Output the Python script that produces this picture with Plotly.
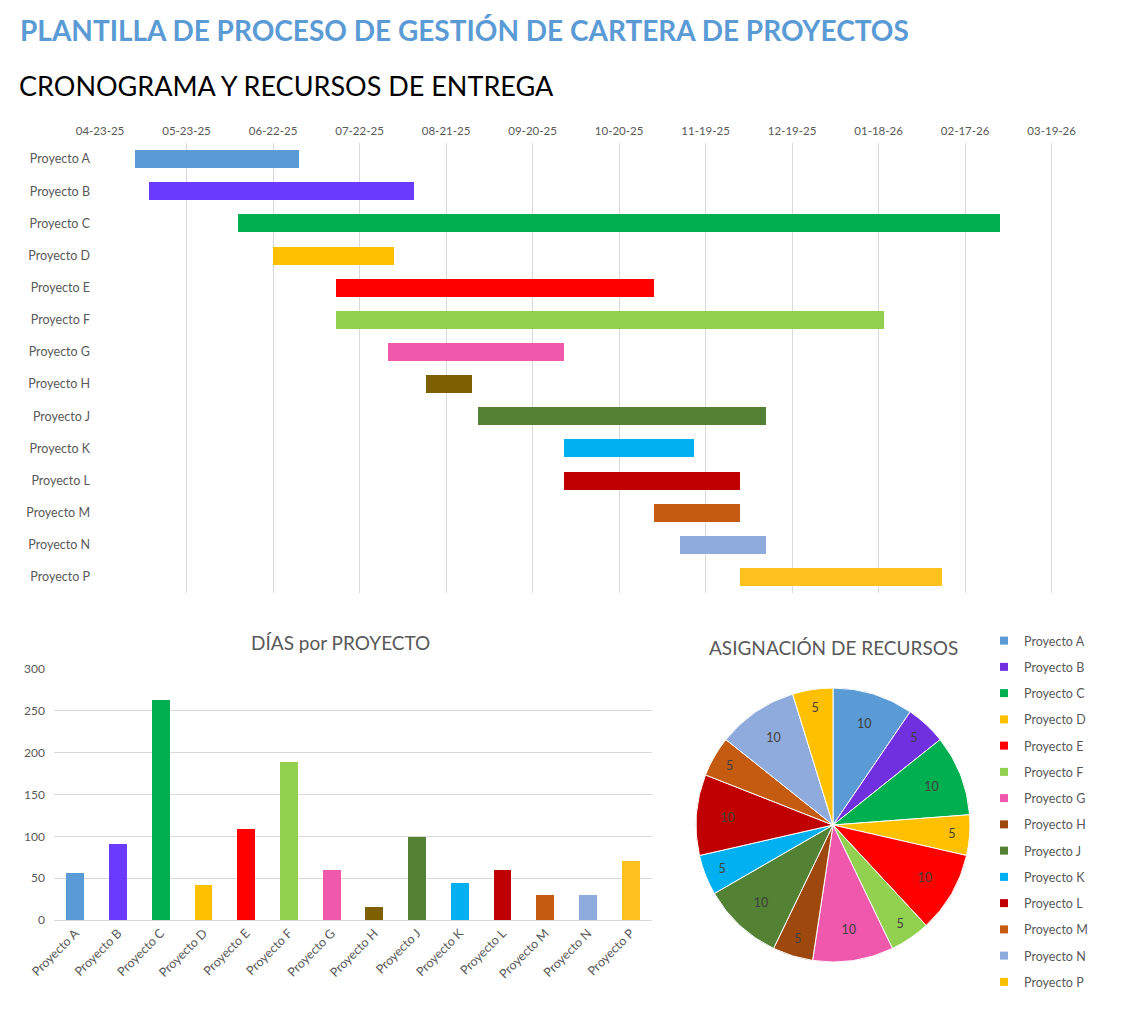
import plotly.graph_objects as go
import pandas as pd

# ---------------- data ----------------
proyectos = ["Proyecto A", "Proyecto B", "Proyecto C", "Proyecto D", "Proyecto E",
             "Proyecto F", "Proyecto G", "Proyecto H", "Proyecto J", "Proyecto K",
             "Proyecto L", "Proyecto M", "Proyecto N", "Proyecto P"]
fecha_inicio = ["2025-05-05", "2025-05-10", "2025-06-10", "2025-06-22", "2025-07-14",
                "2025-07-14", "2025-08-01", "2025-08-14", "2025-09-01", "2025-10-01",
                "2025-10-01", "2025-11-01", "2025-11-10", "2025-12-01"]
fecha_fin = ["2025-07-01", "2025-08-10", "2026-03-01", "2025-08-03", "2025-11-01",
             "2026-01-20", "2025-10-01", "2025-08-30", "2025-12-10", "2025-11-15",
             "2025-12-01", "2025-12-01", "2025-12-10", "2026-02-09"]
dias = [56, 91, 263, 42, 109, 189, 60, 16, 99, 44, 60, 30, 30, 70]
recursos = [10, 5, 10, 5, 10, 5, 10, 5, 10, 5, 10, 5, 10, 5]

colores_barras = ["#5B9BD5", "#6A3BFF", "#00B050", "#FFC000", "#FF0000", "#92D050",
                  "#F058AC", "#7F6000", "#548235", "#00B0F0", "#C00000", "#C55A11",
                  "#8FAADC", "#FEC21F"]
colores_pie = ["#5B9BD5", "#7030E0", "#00B050", "#FFC000", "#FF0000", "#92D050",
               "#F058AC", "#9E480E", "#548235", "#00B0F0", "#C00000", "#C55A11",
               "#8FAADC", "#FFC000"]

FONT = "Lato"
GRAY = "#595959"
GRID = "#D9D9D9"
W, H = 1126, 1016

def px_x(v):
    return v / W

def px_y(v):
    return (H - v) / H

inicio = pd.to_datetime(fecha_inicio)
fin = pd.to_datetime(fecha_fin)
duracion_ms = [(f - i).total_seconds() * 1000 for i, f in zip(inicio, fin)]

fig = go.Figure()

# Gantt
fig.add_trace(go.Bar(
    y=proyectos, x=duracion_ms, base=fecha_inicio, orientation="h",
    marker=dict(color=colores_barras, line=dict(width=0)),
    width=0.56, showlegend=False, xaxis="x", yaxis="y",
))

# Días por proyecto
fig.add_trace(go.Bar(
    x=proyectos, y=dias, marker=dict(color=colores_barras, line=dict(width=0)),
    width=0.42, showlegend=False, xaxis="x2", yaxis="y2",
))

# Asignación de recursos (pie)
fig.add_trace(go.Pie(
    labels=proyectos, values=recursos, sort=False, direction="clockwise", rotation=0,
    marker=dict(colors=colores_pie, line=dict(color="white", width=1)),
    textinfo="value", textposition="inside", insidetextorientation="horizontal",
    textfont=dict(family=FONT, size=12.5, color="#404040"),
    domain=dict(x=[px_x(696), px_x(970)], y=[px_y(962), px_y(688)]),
    showlegend=False,
))

# legend entries for the pie
for nombre, color in zip(proyectos, colores_pie):
    fig.add_trace(go.Scatter(
        x=[None], y=[None], mode="markers", name=nombre, legendgroup=nombre,
        marker=dict(symbol="square", size=8, color=color),
        xaxis="x2", yaxis="y2", showlegend=True,
    ))

fig.update_layout(
    width=W, height=H,
    margin=dict(l=0, r=0, t=0, b=0, autoexpand=False),
    paper_bgcolor="white", plot_bgcolor="white",
    font=dict(family=FONT, color=GRAY),
    bargap=0,
    xaxis=dict(
        type="date", domain=[px_x(100), px_x(1092)], anchor="y", side="top",
        range=["2025-04-23", "2026-04-02"], automargin=False,
        tick0="2025-04-23", dtick=30 * 86400000, tickformat="%m-%d-%y",
        showgrid=True, gridcolor=GRID, gridwidth=1, zeroline=False, showline=False,
        ticks="", tickfont=dict(size=11.5, color=GRAY), ticklabelstandoff=5,
    ),
    yaxis=dict(
        domain=[px_y(593), px_y(143)], anchor="x", autorange="reversed",
        type="category", showgrid=False, zeroline=False, showline=False, ticks="",
        tickfont=dict(size=12.5, color=GRAY), ticklabelstandoff=9, automargin=False,
    ),
    xaxis2=dict(
        domain=[px_x(54), px_x(652)], anchor="y2", type="category", automargin=False,
        showline=True, linecolor=GRID, linewidth=1, showgrid=False, ticks="",
        tickangle=-45, tickfont=dict(size=12.5, color=GRAY),
    ),
    yaxis2=dict(
        domain=[px_y(920), px_y(669)], anchor="x2", range=[0, 300], dtick=50,
        showgrid=True, gridcolor=GRID, zeroline=False, showline=False, ticks="",
        tickfont=dict(size=12, color=GRAY), ticklabelstandoff=8, automargin=False,
    ),
    legend=dict(
        x=px_x(984), y=px_y(626), xanchor="left", yanchor="top",
        font=dict(family=FONT, size=12.5, color=GRAY), tracegroupgap=7,
        bgcolor="rgba(0,0,0,0)", borderwidth=0, itemwidth=30,
    ),
    annotations=[
        dict(text="<b>PLANTILLA DE PROCESO DE GESTIÓN DE CARTERA DE PROYECTOS</b>",
             x=px_x(18), y=px_y(30), xref="paper", yref="paper", xanchor="left",
             yanchor="middle", showarrow=False,
             font=dict(family=FONT, size=28, color="#5B9BD5")),
        dict(text="CRONOGRAMA Y RECURSOS DE ENTREGA",
             x=px_x(17), y=px_y(86), xref="paper", yref="paper", xanchor="left",
             yanchor="middle", showarrow=False,
             font=dict(family=FONT, size=27, color="black")),
        dict(text="DÍAS por PROYECTO",
             x=px_x(340), y=px_y(642), xref="paper", yref="paper", xanchor="center",
             yanchor="middle", showarrow=False,
             font=dict(family=FONT, size=19, color=GRAY)),
        dict(text="ASIGNACIÓN DE RECURSOS",
             x=px_x(833), y=px_y(647), xref="paper", yref="paper", xanchor="center",
             yanchor="middle", showarrow=False,
             font=dict(family=FONT, size=19, color=GRAY)),
    ],
)

fig.write_html("out.html", config={"displayModeBar": False},
               post_script="document.body.style.margin='0';")
